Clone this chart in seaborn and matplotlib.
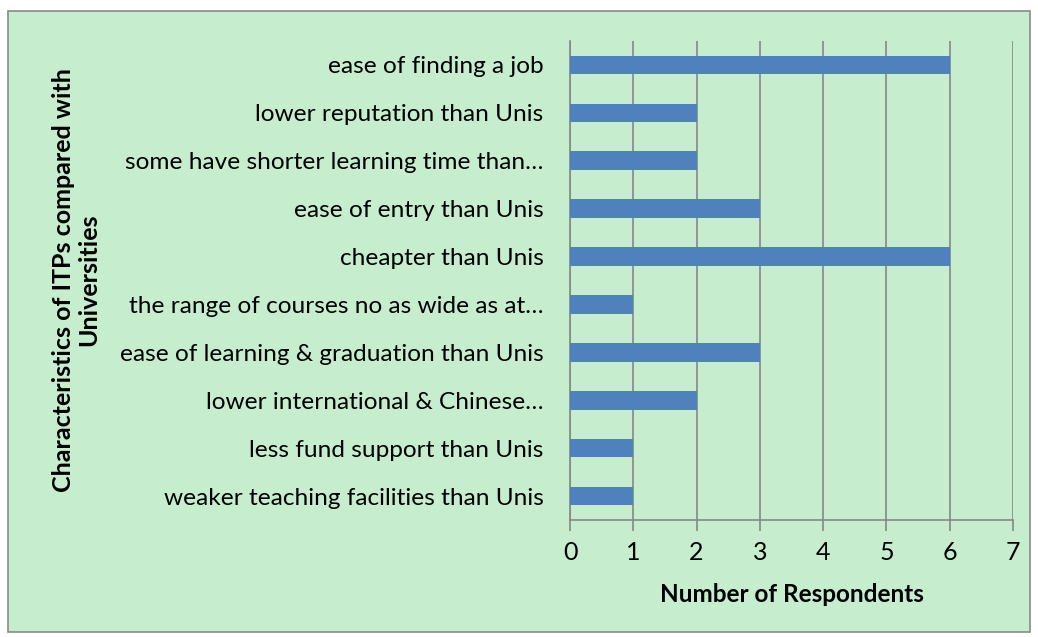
import matplotlib
matplotlib.use("Agg")
import matplotlib.pyplot as plt
import seaborn as sns
import pandas as pd
from matplotlib.patches import Rectangle

categories = [
    "ease of finding a job",
    "lower reputation than Unis",
    "some have shorter learning time than…",
    "ease of entry than Unis",
    "cheapter than Unis",
    "the range of courses no as wide as at…",
    "ease of learning & graduation than Unis",
    "lower international & Chinese…",
    "less fund support than Unis",
    "weaker teaching facilities than Unis",
]
values = [6, 2, 2, 3, 6, 1, 3, 2, 1, 1]
x_ticks = [0, 1, 2, 3, 4, 5, 6, 7]

sns.set_theme(style="white")
plt.rcParams['font.family'] = ['Lato', 'DejaVu Sans']

GREEN = "#C6EECE"
BLUE = "#4F81BD"
GRID = "#878787"

fig = plt.figure(figsize=(10.38, 6.37), dpi=100)
fig.patch.set_facecolor("white")
fig.patches.append(Rectangle((8/1038, 5/637), (1030-8)/1038, (632-11)/637,
                             transform=fig.transFigure, facecolor=GREEN,
                             edgecolor="#8A8A8A", linewidth=1.2, zorder=-10))
ax = fig.add_axes([570/1038, 1-520/637, (1013-570)/1038, (520-41)/637])
ax.set_facecolor("none")
ax.set_zorder(1)

df = pd.DataFrame({"cat": categories, "val": values})
sns.barplot(data=df, x="val", y="cat", orient="h", color=BLUE, width=0.39,
            saturation=1, linewidth=0, ax=ax, zorder=3)

ax.set_xlim(0, 7)
ax.set_xticks(x_ticks)
ax.set_xticklabels([str(t) for t in x_ticks])
ax.grid(axis="x", color=GRID, linewidth=1.2, zorder=1)
ax.grid(axis="y", visible=False)
ax.set_axisbelow(True)
for s in ["top", "right"]:
    ax.spines[s].set_visible(False)
ax.spines["left"].set_color(GRID)
ax.spines["left"].set_linewidth(1.2)
ax.spines["bottom"].set_color(GRID)
ax.spines["bottom"].set_linewidth(1.2)
ax.tick_params(axis="x", which="both", bottom=True, length=8, width=1.2,
               color=GRID, labelsize=18, pad=7, labelcolor="black")
ax.tick_params(axis="y", left=False, labelsize=17.6, pad=13, labelcolor="black")

ax.set_xlabel("Number of Respondents", fontsize=17.5, fontweight="bold",
              labelpad=14, color="black")
ax.set_ylabel("")
fig.text(76/1038, 1-280/637, "Characteristics of ITPs compared with\nUniversities",
         rotation=90, ha="center", va="center", fontsize=18,
         fontweight="bold", color="black", linespacing=1.15)

fig.savefig("out.png", dpi=100)
